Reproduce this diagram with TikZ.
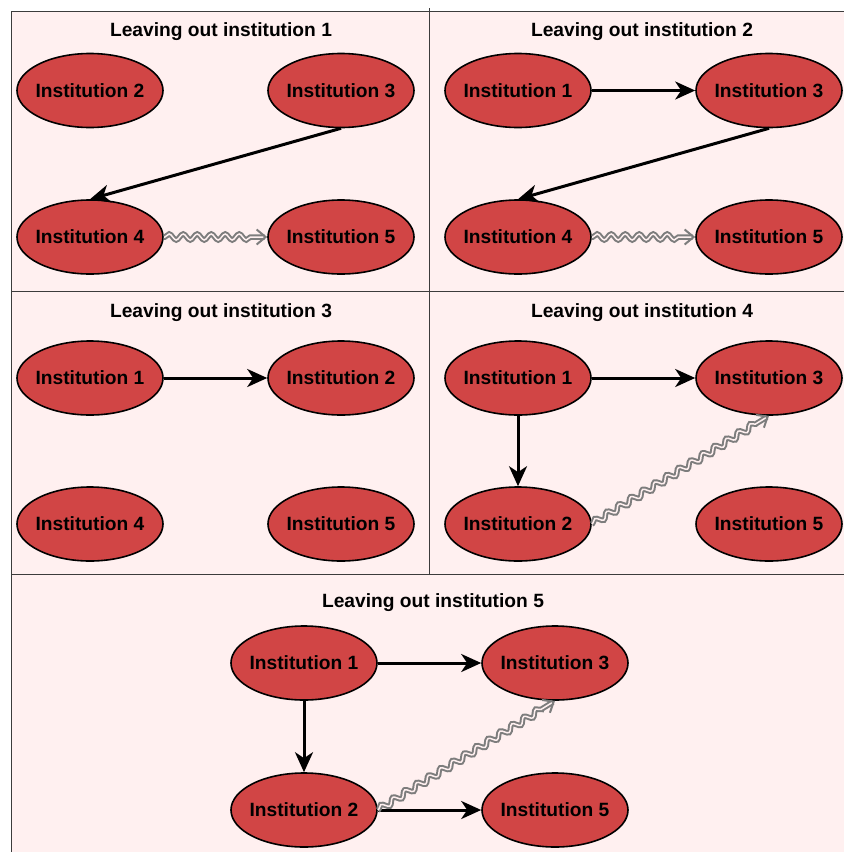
\documentclass[tikz,border=0pt]{standalone}
\usepackage{fontspec}
\setmainfont{Liberation Sans}
\usetikzlibrary{shapes.geometric,arrows.meta,decorations.pathmorphing}
\definecolor{panelbg}{RGB}{255,240,240}
\definecolor{instred}{RGB}{209,69,69}
\definecolor{framegray}{RGB}{60,60,60}
\definecolor{wavegray}{RGB}{125,125,125}
\newcommand{\ctext}[1]{\makebox[0pt]{#1}}
\tikzset{
  inst/.style={ellipse, draw=black, line width=1.6pt, fill=instred,
    minimum width=146pt, minimum height=74pt, inner sep=0pt,
    font=\fontsize{19.2}{23}\selectfont\bfseries},
  paneltitle/.style={font=\fontsize{19.2}{23}\selectfont\bfseries, inner sep=0pt},
  frameline/.style={draw=framegray, line width=1pt},
  solidarrow/.style={draw=black, line width=3pt,
    -{Stealth[length=20pt,width=18pt,inset=6pt]}},
  wavearrow/.style={draw=wavegray, line width=2pt, double=panelbg,
    double distance=1.5pt,
    decorate, decoration={snake, amplitude=3pt, segment length=14pt,
      pre length=1pt, post length=10pt},
    -{Straight Barb[length=9pt,width=15pt,line width=2pt]}},
}
\begin{document}
\begin{tikzpicture}[x=1pt,y=-1pt]
\useasboundingbox (0,0) rectangle (844,852);
\fill[white] (0,0) rectangle (844,852);
\fill[panelbg] (11,11) rectangle (844,852);

% panel frame
\draw[frameline] (11,852) -- (11,11) -- (844,11);
\draw[frameline] (11,291) -- (844,291);
\draw[frameline] (11,574) -- (844,574);
\draw[frameline] (429,8) -- (429,574);

% panel 1
\node[paneltitle] (t1) at (221,32) {Leaving out institution 1};
\node[inst] (p1b) at (90,90.5) {\ctext{Institution 2}};
\node[inst] (p1c) at (341,90.5) {\ctext{Institution 3}};
\node[inst] (p1d) at (90,237) {\ctext{Institution 4}};
\node[inst] (p1e) at (341,237) {\ctext{Institution 5}};
\draw[solidarrow] (p1c.south) -- (p1d.north);
\draw[wavearrow] (p1d.east) -- (p1e.west);

% panel 2
\node[paneltitle] (t2) at (642,32) {Leaving out institution 2};
\node[inst] (p2a) at (518,90.5) {\ctext{Institution 1}};
\node[inst] (p2c) at (769,90.5) {\ctext{Institution 3}};
\node[inst] (p2d) at (518,237) {\ctext{Institution 4}};
\node[inst] (p2e) at (769,237) {\ctext{Institution 5}};
\draw[solidarrow] (p2a.east) -- (p2c.west);
\draw[solidarrow] (p2c.south) -- (p2d.north);
\draw[wavearrow] (p2d.east) -- (p2e.west);

% panel 3
\node[paneltitle] (t3) at (221,313) {Leaving out institution 3};
\node[inst] (p3a) at (90,378) {\ctext{Institution 1}};
\node[inst] (p3b) at (341,378) {\ctext{Institution 2}};
\node[inst] (p3d) at (90,524) {\ctext{Institution 4}};
\node[inst] (p3e) at (341,524) {\ctext{Institution 5}};
\draw[solidarrow] (p3a.east) -- (p3b.west);

% panel 4
\node[paneltitle] (t4) at (642,313) {Leaving out institution 4};
\node[inst] (p4a) at (518,378) {\ctext{Institution 1}};
\node[inst] (p4c) at (769,378) {\ctext{Institution 3}};
\node[inst] (p4b) at (518,524) {\ctext{Institution 2}};
\node[inst] (p4e) at (769,524) {\ctext{Institution 5}};
\draw[solidarrow] (p4a.east) -- (p4c.west);
\draw[solidarrow] (p4a.south) -- (p4b.north);
\draw[wavearrow] (p4b.east) -- (p4c.south);

% panel 5
\node[paneltitle] (t5) at (433,603) {Leaving out institution 5};
\node[inst] (p5a) at (304,663) {\ctext{Institution 1}};
\node[inst] (p5c) at (555,663) {\ctext{Institution 3}};
\node[inst] (p5b) at (304,810) {\ctext{Institution 2}};
\node[inst] (p5e) at (555,810) {\ctext{Institution 5}};
\draw[solidarrow] (p5a.east) -- (p5c.west);
\draw[solidarrow] (p5a.south) -- (p5b.north);
\draw[solidarrow] (p5b.east) -- (p5e.west);
\draw[wavearrow] (p5b.east) -- (p5c.south);
\end{tikzpicture}
\end{document}
